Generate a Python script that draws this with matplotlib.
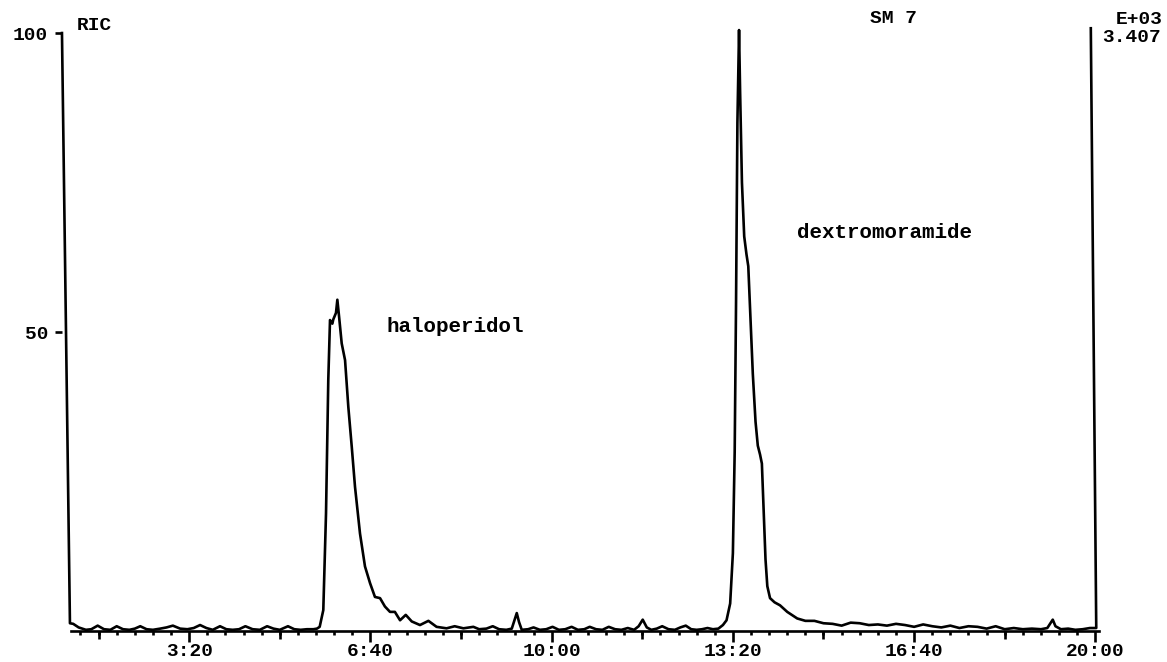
import numpy as np
import matplotlib
matplotlib.use("Agg")
import matplotlib.pyplot as plt
from matplotlib.ticker import FixedLocator, FuncFormatter

# retention time (s) and relative intensity (%)
time_s = [
    59.6, 64, 68.4, 72, 78, 86, 92, 99, 106, 113, 120, 127, 134, 140, 146,
    153, 160, 168, 175, 182, 190, 198, 205, 212, 219, 226, 234, 241, 248,
    255, 262, 270, 278, 286, 293, 300, 309, 316, 323, 330, 337, 341,
    # haloperidol
    344, 348, 351, 353.5, 355.4, 358, 359, 362, 363.5, 365.4, 368.3, 372,
    375.6, 379.4, 383, 388.5, 394, 399.6, 405, 410.6, 416, 421.6, 427,
    432.7, 439, 445.6, 454.7, 464, 473, 484, 493, 502.6, 513.6,
    520, 528, 535, 542, 550, 556, 559, 561.5, 564, 567, 574, 580, 587, 594,
    601, 608, 615, 622, 629, 636, 642, 649, 656, 663, 670, 677, 684, 691,
    696, 700.5, 705, 710, 716, 722, 729, 736, 742, 748, 754, 760, 766, 772,
    778, 784, 789,
    # dextromoramide
    793, 797, 800, 802, 803.5, 805, 806.8, 808, 810, 812.5, 815, 817, 819.5,
    822, 825, 827.5, 830, 832, 834, 836, 838, 841, 846, 852, 860, 871, 880,
    890, 900, 910, 920, 930, 940, 950, 960, 970, 980, 990, 1000, 1010, 1020,
    1030, 1040, 1050, 1060, 1070, 1080, 1090, 1100, 1110, 1120, 1130, 1140,
    1147, 1150, 1153, 1156, 1162, 1170, 1178, 1186, 1194, 1201, 1195,
]
intensity = [
    100, 50, 1.3, 1.2, 0.6, 0.2, 0.3, 0.9, 0.3, 0.2, 0.8, 0.3, 0.2, 0.4, 0.8,
    0.3, 0.2, 0.4, 0.6, 0.9, 0.4, 0.3, 0.5, 1.0, 0.5, 0.2, 0.8, 0.3, 0.2,
    0.3, 0.8, 0.3, 0.2, 0.8, 0.4, 0.2, 0.8, 0.3, 0.2, 0.3, 0.3, 0.4,
    0.7, 3.5, 19.7, 42, 52, 51.4, 52.1, 53.2, 55.4, 52.6, 48.1, 45.3,
    37.5, 30.8, 24.1, 16.3, 10.8, 8.0, 5.7, 5.5, 4.1, 3.2, 3.2,
    1.8, 2.7, 1.6, 1.0, 1.7, 0.7, 0.45, 0.8, 0.45, 0.7,
    0.3, 0.4, 0.8, 0.3, 0.2, 0.4, 1.8, 3.0, 1.5, 0.2, 0.3, 0.6, 0.2, 0.3,
    0.7, 0.2, 0.3, 0.7, 0.2, 0.3, 0.7, 0.3, 0.2, 0.7, 0.3, 0.2, 0.5, 0.2,
    0.8, 1.9, 0.6, 0.2, 0.4, 0.8, 0.3, 0.2, 0.6, 0.9, 0.3, 0.2, 0.3, 0.5,
    0.3, 0.4, 1.0,
    1.8, 4.6, 13, 30, 55, 85, 100.5, 90, 75, 66, 63, 61, 52,
    43, 35, 31, 29.5, 28, 20, 12, 7.5, 5.5, 4.8, 4.3, 3.2, 2.1, 1.7,
    1.7, 1.3, 1.2, 0.9, 1.4, 1.3, 1.0, 1.1, 0.9, 1.2, 1.0, 0.7, 1.1, 0.8,
    0.6, 0.9, 0.5, 0.8, 0.7, 0.4, 0.8, 0.3, 0.5, 0.3, 0.4, 0.3,
    0.5, 1.2, 1.9, 0.8, 0.3, 0.4, 0.2, 0.3, 0.5, 0.5, 100.8,
]

major_ticks = [200, 400, 600, 800, 1000, 1200]
mid_ticks = [100, 300, 500, 700, 900, 1100]
y_ticks = [50, 100]
y_labels = ["50", "100"]

FONT = dict(family="Liberation Mono", weight="bold", size=15)
TICK_FONT = dict(family="Liberation Mono", weight="bold", size=14)
LW = 1.9


def mmss(x, pos=None):
    x = int(round(x))
    return f"{x // 60}:{x % 60:02d}"


fig = plt.figure(figsize=(11.67, 6.62), dpi=100)
ax = fig.add_axes([0.0531, 0.0468, 0.8886, 0.9033])
ax.set_xlim(59.6, 1204)
ax.set_ylim(0, 100)

ax.plot(time_s, intensity, color="black", lw=LW, clip_on=False,
        solid_joinstyle="round")

for s in ["top", "right", "left"]:
    ax.spines[s].set_visible(False)
ax.spines["bottom"].set_bounds(69.5, 1204)
ax.spines["bottom"].set_linewidth(LW)

# x axis: labelled majors, mid ticks, small minors
ax.xaxis.set_major_locator(FixedLocator(major_ticks))
ax.xaxis.set_major_formatter(FuncFormatter(mmss))
ax.xaxis.set_minor_locator(FixedLocator(np.arange(80, 1201, 20)))
ax.tick_params(axis="x", which="major", direction="out", length=8,
               width=LW, pad=0.5)
ax.tick_params(axis="x", which="minor", direction="out", length=3,
               width=LW)
for lab in ax.get_xticklabels():
    lab.set(**TICK_FONT)

sec = ax.secondary_xaxis("bottom")
sec.spines["bottom"].set_visible(False)
sec.set_xticks(mid_ticks)
sec.set_xticklabels([])
sec.tick_params(direction="out", length=6, width=LW)

# y axis
ax.set_yticks(y_ticks)
ax.set_yticklabels(y_labels)
ax.tick_params(axis="y", direction="out", length=5, width=LW, pad=5)
for lab in ax.get_yticklabels():
    lab.set(**TICK_FONT)

secy = ax.secondary_yaxis("right")
secy.spines["right"].set_visible(False)
secy.set_yticks([100.8])
secy.set_yticklabels([])
secy.tick_params(direction="in", length=5, width=LW)

# header and peak labels
ax.text(0.0145, 1.013, "RIC", transform=ax.transAxes, va="center", **TICK_FONT)
ax.text(0.779, 1.025, "SM 7", transform=ax.transAxes, va="center", **TICK_FONT)
ax.text(1.016, 1.023, "E+03", transform=ax.transAxes, va="center", **TICK_FONT)
ax.text(1.003, 0.992, "3.407", transform=ax.transAxes, va="center", **TICK_FONT)
ax.text(418, 51, "haloperidol", va="center", **FONT)
ax.text(871, 66.7, "dextromoramide", va="center", **FONT)

fig.savefig("out.png", dpi=100)
